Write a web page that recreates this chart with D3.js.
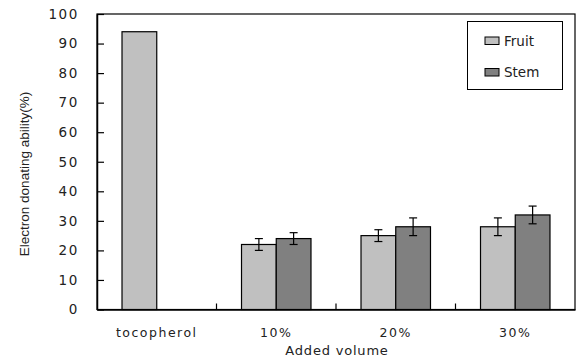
<!DOCTYPE html>
<html><head><meta charset="utf-8">
<script src="https://cdn.jsdelivr.net/npm/d3@7"></script>
<style>body{margin:0;background:#fff}svg{display:block}</style>
</head><body><svg id="c" width="576" height="359"></svg>
<script>
const categories = ["tocopherol","10%","20%","30%"];
const series = ["Fruit","Stem"];
const fruitValues = [94,22,25,28];
const stemValues = [null,24,28,32];
const fruitErrors = [null,2,2,3];
const stemErrors = [null,2,3,3];
const yTicks = [0,10,20,30,40,50,60,70,80,90,100];
const colors = {Fruit:"#c0c0c0", Stem:"#808080"};

const svg = d3.select("#c");
const m = {l:97, r:575, t:14, b:309.5};
const x = d3.scaleBand().domain(categories).range([m.l,m.r]).paddingInner(0).paddingOuter(0);
const y = d3.scaleLinear().domain([0,100]).range([m.b,m.t]);
const xs = d3.scaleBand().domain(series).range([0,x.bandwidth()]).paddingInner(0).paddingOuter(0.72);

const data = [];
categories.forEach((c,i)=>{
  data.push({c, s:"Fruit", v:fruitValues[i], e:fruitErrors[i]});
  data.push({c, s:"Stem", v:stemValues[i], e:stemErrors[i]});
});
const valid = data.filter(d=>d.v!=null);

svg.append("rect").attr("x",m.l).attr("y",m.t).attr("width",m.r-m.l).attr("height",m.b-m.t)
  .attr("fill","none").attr("stroke","#000").attr("stroke-width",1.2);

svg.selectAll("rect.bar").data(valid).enter().append("rect").attr("class","bar")
  .attr("x",d=>x(d.c)+xs(d.s)).attr("width",xs.bandwidth())
  .attr("y",d=>y(d.v)).attr("height",d=>y(0)-y(d.v))
  .attr("fill",d=>colors[d.s]).attr("stroke","#000").attr("stroke-width",1.2);

const eb = valid.filter(d=>d.e!=null);
const cx = d=>x(d.c)+xs(d.s)+xs.bandwidth()/2;
const g = svg.append("g").attr("stroke","#000").attr("stroke-width",1.2);
eb.forEach(d=>{
  g.append("line").attr("x1",cx(d)).attr("x2",cx(d)).attr("y1",y(d.v+d.e)).attr("y2",y(d.v-d.e));
  g.append("line").attr("x1",cx(d)-4).attr("x2",cx(d)+4).attr("y1",y(d.v+d.e)).attr("y2",y(d.v+d.e));
  g.append("line").attr("x1",cx(d)-4).attr("x2",cx(d)+4).attr("y1",y(d.v-d.e)).attr("y2",y(d.v-d.e));
});

const ya = svg.append("g").attr("transform",`translate(${m.l},0)`)
  .call(d3.axisLeft(y).tickValues(yTicks).tickSizeInner(-7).tickSizeOuter(0).tickPadding(18));
ya.select(".domain").attr("stroke-width",1.5);
ya.selectAll(".tick line").attr("stroke-width",1.2);
ya.selectAll(".tick text").attr("font-family","'DejaVu Sans', sans-serif").attr("font-size",13.5)
  .attr("letter-spacing","1.6px").attr("fill","#222");

const xa = svg.append("g").attr("transform",`translate(0,${m.b})`)
  .call(d3.axisBottom(x).tickSize(0).tickPadding(19));
xa.select(".domain").attr("stroke-width",1.5);
xa.selectAll(".tick text").attr("font-family","'DejaVu Sans', sans-serif").attr("font-size",12.5)
  .attr("letter-spacing","1.5px").attr("fill","#222");
svg.append("g").selectAll("line").data(categories.slice(1)).enter().append("line")
  .attr("x1",d=>x(d)).attr("x2",d=>x(d)).attr("y1",m.b).attr("y2",m.b-6)
  .attr("stroke","#000").attr("stroke-width",1.2);

svg.append("text").attr("x",337).attr("y",355).attr("text-anchor","middle")
  .attr("font-family","'DejaVu Sans', sans-serif").attr("font-size",13).attr("letter-spacing","0.8px")
  .attr("fill","#222").text("Added volume");
svg.append("text").attr("transform","translate(29,174) rotate(-90)").attr("text-anchor","middle")
  .attr("font-family","'Liberation Sans Narrow','Liberation Sans', sans-serif").attr("font-size",13.5)
  .attr("fill","#222").text("Electron donating ability(%)");

const lg = svg.append("g");
lg.append("rect").attr("x",467.5).attr("y",21.5).attr("width",95).attr("height",68)
  .attr("fill","#fff").attr("stroke","#000").attr("stroke-width",1);
series.forEach((s,i)=>{
  const yy = 37 + i*31.5;
  lg.append("rect").attr("x",485).attr("y",yy).attr("width",14).attr("height",7.5)
    .attr("fill",colors[s]).attr("stroke","#000").attr("stroke-width",1);
  lg.append("text").attr("x",504).attr("y",yy+8.5).attr("font-family","'DejaVu Sans', sans-serif")
    .attr("font-size",13.5).attr("fill","#222").text(s);
});
</script></body></html>
